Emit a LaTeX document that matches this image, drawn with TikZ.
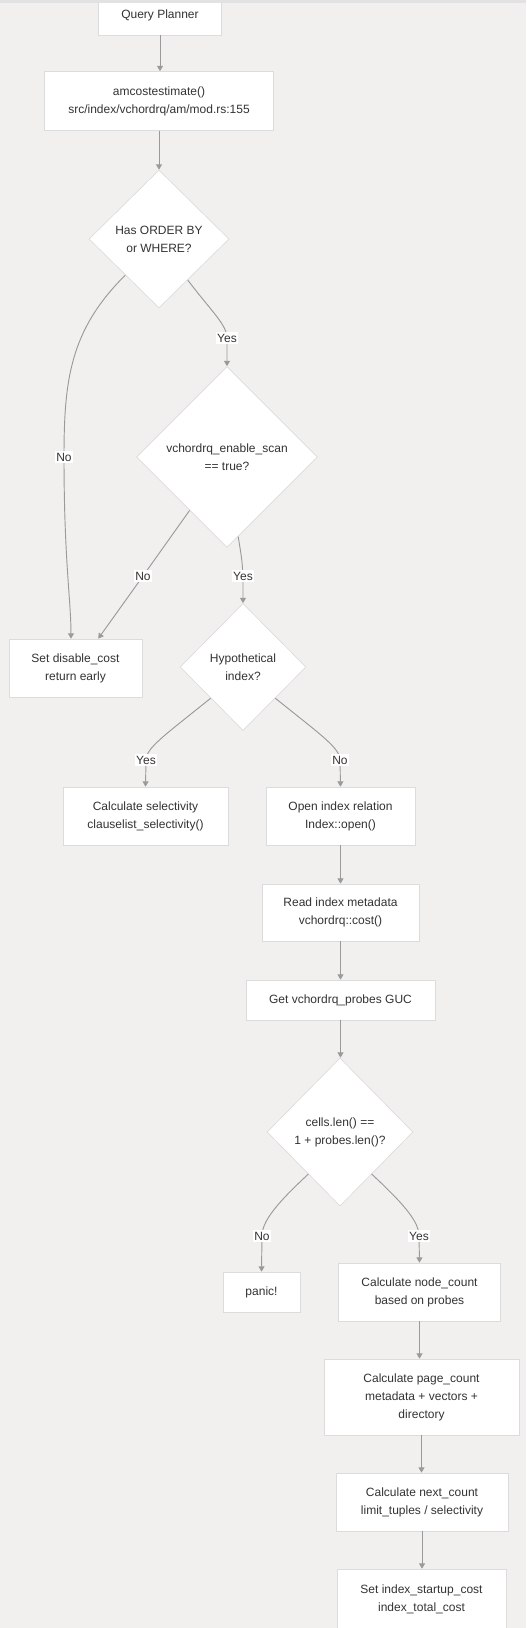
\documentclass[tikz,border=0pt]{standalone}
\usepackage{fontspec}
\setmainfont{Liberation Sans}
\usetikzlibrary{shapes.geometric,arrows.meta,calc}
\definecolor{bg}{HTML}{F1F0EF}
\definecolor{edgec}{HTML}{9A9A9A}
\definecolor{bord}{HTML}{DCDCDC}
\definecolor{txt}{HTML}{333333}
\definecolor{topline}{HTML}{E2E2E2}
\begin{document}
\begin{tikzpicture}[x=0.75pt,y=-0.75pt,
  box/.style={draw=bord, fill=white, line width=0.5pt, align=center, text=txt,
    font=\fontsize{9}{13.5}\selectfont, inner sep=0pt},
  dia/.style={diamond, aspect=1, draw=bord, fill=white, line width=0.5pt, align=center,
    text=txt, font=\fontsize{9}{13.5}\selectfont, inner sep=0pt},
  lbl/.style={fill=white, text=txt, font=\fontsize{9}{10}\selectfont, inner sep=1pt},
  conn/.style={draw=edgec, line width=0.7pt, -{Triangle[length=4pt,width=4.5pt]}}]
\useasboundingbox (0,0) rectangle (526,1628);
\fill[bg] (0,0) rectangle (526,1628);

% nodes
\node[box, minimum width=123*0.75pt, minimum height=40*0.75pt] (qp) at (160,15) {Query Planner};
\fill[topline] (0,0) rectangle (526,2.5);
\node[box, minimum width=229*0.75pt, minimum height=59*0.75pt] (am) at (159,101) {amcostestimate()\\src/index/vchordrq/am/mod.rs:155};
\node[dia, minimum width=140*0.75pt, minimum height=138*0.75pt] (d1) at (159,239) {Has ORDER BY\\or WHERE?};
\node[dia, minimum width=181*0.75pt, minimum height=181*0.75pt] (d2) at (227,457) {vchordrq\_enable\_scan\\== true?};
\node[box, minimum width=133*0.75pt, minimum height=58*0.75pt] (sd) at (75.5,668) {Set disable\_cost\\return early};
\node[dia, minimum width=126*0.75pt, minimum height=127*0.75pt] (d3) at (243,667) {Hypothetical\\index?};
\node[box, minimum width=165*0.75pt, minimum height=58*0.75pt] (cs) at (145.5,816) {Calculate selectivity\\clauselist\_selectivity()};
\node[box, minimum width=149*0.75pt, minimum height=58*0.75pt] (oi) at (340.5,816) {Open index relation\\Index::open()};
\node[box, minimum width=157*0.75pt, minimum height=57*0.75pt] (ri) at (340.5,912.5) {Read index metadata\\vchordrq::cost()};
\node[box, minimum width=189*0.75pt, minimum height=40*0.75pt] (gp) at (340.5,1000) {Get vchordrq\_probes GUC};
\node[dia, minimum width=146*0.75pt, minimum height=148*0.75pt] (d4) at (340,1132) {cells.len() ==\\1 + probes.len()?};
\node[box, minimum width=77*0.75pt, minimum height=40*0.75pt] (pn) at (261.5,1292) {panic!};
\node[box, minimum width=162*0.75pt, minimum height=58*0.75pt] (nc) at (419.5,1292) {Calculate node\_count\\based on probes};
\node[box, minimum width=195*0.75pt, minimum height=76*0.75pt] (pc) at (421.5,1397) {Calculate page\_count\\metadata + vectors +\\directory};
\node[box, minimum width=172*0.75pt, minimum height=58*0.75pt] (nx) at (422,1502) {Calculate next\_count\\limit\_tuples / selectivity};
\node[box, minimum width=169*0.75pt, minimum height=60*0.75pt] (si) at (421.5,1599) {Set index\_startup\_cost\\index\_total\_cost};

% connectors
\draw[conn] (qp.south) -- (qp.south|-am.north);
\draw[conn] (am.south) -- (am.south|-d1.north);
\draw[conn] (d1.-133) .. controls (70,330) and (64,380) .. (64,457) node[lbl] {No}
  .. controls (64,560) and (71,600) .. ($(sd.north west)!0.466!(sd.north east)$);
\draw[conn] (d1.-55) .. controls (212,312) and (227,325) .. (227,338) node[lbl] {Yes} -- (d2.north);
\draw[conn] (d2.-125) -- (143,576) node[lbl] {No} -- ($(sd.north east)!0.33!(sd.north west)$);
\draw[conn] (d2.-82) .. controls (242,560) .. (243,576) node[lbl] {Yes} -- (d3.north);
\draw[conn] (d3.-136) .. controls (165,735) and (146,748) .. (146,760) node[lbl] {Yes} -- (cs.north);
\draw[conn] (d3.-44) .. controls (321,735) and (340,748) .. (340,760) node[lbl] {No} -- (oi.north);
\draw[conn] (oi.south) -- (oi.south|-ri.north);
\draw[conn] (ri.south) -- (ri.south|-gp.north);
\draw[conn] (gp.south) -- (gp.south|-d4.north);
\draw[conn] (d4.-127) .. controls (275,1205) and (262,1222) .. (262,1236) node[lbl] {No} -- (pn.north);
\draw[conn] (d4.-53) .. controls (405,1205) and (419,1222) .. (419,1236) node[lbl] {Yes} -- (nc.north);
\draw[conn] (nc.south) -- (nc.south|-pc.north);
\draw[conn] (pc.south) -- (pc.south|-nx.north);
\draw[conn] (nx.south) -- (nx.south|-si.north);
\end{tikzpicture}
\end{document}
